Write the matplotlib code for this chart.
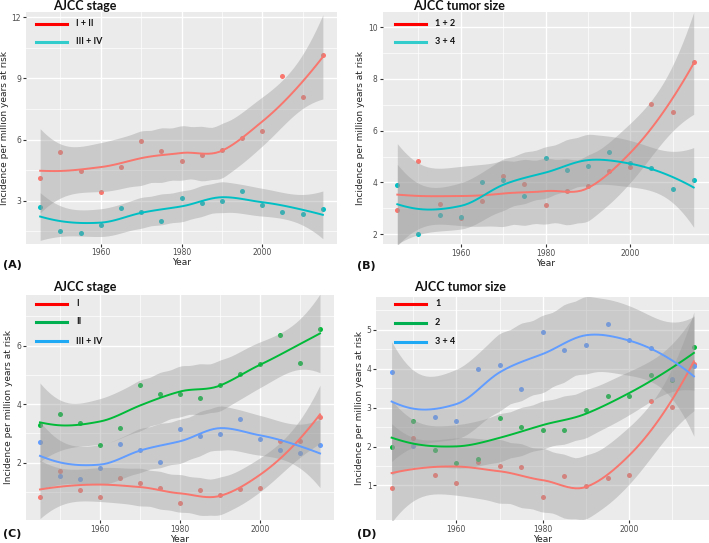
import numpy as np
import matplotlib.pyplot as plt

years = [1945, 1950, 1955, 1960, 1965, 1970, 1975, 1980, 1985, 1990, 1995, 2000, 2005, 2010, 2015]

# (A) AJCC stage, two groups
stage_I_II = [4.11, 5.41, 4.47, 3.44, 4.66, 5.93, 5.46, 4.96, 5.23, 5.51, 6.10, 6.45, 9.12, 8.10, 10.13]
stage_III_IV = [2.71, 1.53, 1.44, 1.83, 2.64, 2.43, 2.01, 3.15, 2.92, 2.98, 3.50, 2.80, 2.43, 2.34, 2.59]
# (B) AJCC tumor size, two groups
size_1_2 = [2.92, 4.84, 3.16, 2.62, 3.28, 4.23, 3.95, 3.12, 3.66, 3.88, 4.46, 4.58, 7.05, 6.74, 8.67]
size_3_4 = [3.91, 2.01, 2.75, 2.66, 4.00, 4.10, 3.48, 4.95, 4.48, 4.62, 5.16, 4.74, 4.54, 3.75, 4.08]
# (C) AJCC stage, three groups
stage_I = [0.84, 1.73, 1.08, 0.84, 1.47, 1.30, 1.14, 0.63, 1.06, 0.89, 1.11, 1.13, 2.75, 2.75, 3.55]
stage_II = [3.27, 3.65, 3.37, 2.61, 3.19, 4.67, 4.35, 4.36, 4.20, 4.66, 5.04, 5.38, 6.36, 5.40, 6.58]
# (D) AJCC tumor size, three groups
size_1 = [0.94, 2.22, 1.27, 1.05, 1.60, 1.51, 1.47, 0.70, 1.25, 0.98, 1.19, 1.28, 3.18, 3.02, 4.12]
size_2 = [1.99, 2.65, 1.90, 1.58, 1.69, 2.74, 2.51, 2.43, 2.43, 2.93, 3.29, 3.31, 3.84, 3.71, 4.56]

W, H = 709, 543
BG = "#EBEBEB"
TXT = "#4D4D4D"
RED, CYAN = "#F8766D", "#00BFC4"
GREEN, BLUE = "#00BA38", "#619CFF"
LEVEL_Z = 2.5758  # normal quantile for a 99% band


def local_ops(x, v, q):
    # local quadratic (tricube) fit at v: rows giving value and slope
    d = np.abs(x - v)
    h = np.sort(d)[q - 1]
    w = np.clip(1 - (d / h) ** 3, 0, None) ** 3
    X = np.column_stack([np.ones(len(x)), x - v, (x - v) ** 2])
    B = np.linalg.solve(X.T @ (w[:, None] * X), X.T * w)
    return B[0], B[1]


def kd_vertices(x, fc):
    mu = 0.005 * (x.max() - x.min())
    verts = {x.min() - mu, x.max() + mu}

    def split(l, u, a, b):
        if u - l + 1 <= fc:
            return
        m = (l + u + 2) // 2 - 1
        s = x[m]
        if s == a or s == b:
            return
        verts.add(s)
        split(l, m, a, s)
        split(m + 1, u, s, b)

    split(0, len(x) - 1, x.min() - mu, x.max() + mu)
    return np.array(sorted(verts))


def operator(x, pts, span=0.75, cell=0.2):
    # loess with kd-tree vertices and cubic Hermite blending, like R's default surface
    n = len(x)
    q = int(np.floor(n * span))
    verts = kd_vertices(x, int(np.floor(n * span * cell)))
    ops = [local_ops(x, v, q) for v in verts]
    rows = []
    for p in pts:
        i = min(max(np.searchsorted(verts, p) - 1, 0), len(verts) - 2)
        a, b = verts[i], verts[i + 1]
        hh = b - a
        t = (p - a) / hh
        h00 = 2 * t ** 3 - 3 * t ** 2 + 1
        h10 = t ** 3 - 2 * t ** 2 + t
        h01 = -2 * t ** 3 + 3 * t ** 2
        h11 = t ** 3 - t ** 2
        rows.append(h00 * ops[i][0] + h10 * hh * ops[i][1]
                    + h01 * ops[i + 1][0] + h11 * hh * ops[i + 1][1])
    return np.array(rows)


def t_quant(df, z=LEVEL_Z):
    # Cornish-Fisher expansion of the Student t quantile
    return (z + (z ** 3 + z) / (4 * df) + (5 * z ** 5 + 16 * z ** 3 + 3 * z) / (96 * df ** 2)
            + (3 * z ** 7 + 19 * z ** 5 + 17 * z ** 3 - 15 * z) / (384 * df ** 3))


def smooth(xv, yv, xs, span=0.75):
    x = (np.asarray(xv, float) - 1980) / 10
    y = np.asarray(yv, float)
    g = (xs - 1980) / 10
    L = operator(x, x, span)
    R = np.eye(len(x)) - L
    M = R.T @ R
    d1 = np.trace(M)
    d2 = np.trace(M @ M)
    s = np.sqrt(np.sum((R @ y) ** 2) / d1)
    fit = operator(x, g, span) @ y
    q = int(np.floor(len(x) * span))
    Ld = np.array([local_ops(x, p, q)[0] for p in g])  # direct rows for the se
    se = s * np.sqrt(np.sum(Ld ** 2, axis=1))
    t = t_quant(d1 ** 2 / d2)
    return fit, fit - t * se, fit + t * se


def px_axes(fig, l, t, r, b):
    return fig.add_axes([l / W, 1 - b / H, (r - l) / W, (b - t) / H])


def style(ax, ylim, major, minor):
    ax.set_facecolor(BG)
    ax.set_xlim(1941.5, 2018.5)
    ax.set_ylim(*ylim)
    ax.set_xticks([1960, 1980, 2000])
    ax.set_xticks([1950, 1970, 1990, 2010], minor=True)
    ax.set_yticks(major)
    ax.set_yticks(minor, minor=True)
    ax.grid(which="major", color="white", lw=1.0)
    ax.grid(which="minor", color="white", lw=0.5)
    ax.set_axisbelow(True)
    for sp in ax.spines.values():
        sp.set_visible(False)
    ax.tick_params(which="major", length=2, width=0.8, color="#333333",
                   labelsize=5.5, labelcolor=TXT, pad=1.5)
    ax.tick_params(which="minor", length=0)
    ax.set_xlabel("Year", fontsize=6.5, color="#222222", labelpad=0.5)
    ax.set_ylabel("Incidence per million years at risk", fontsize=6.5, color="#222222", labelpad=2)


def draw(ax, groups):
    xs = np.linspace(1945, 2015, 80)
    for vals, col in groups:
        ax.scatter(years, vals, s=13, color=col, lw=0, zorder=2)
    for vals, col in groups:
        fit, lo, hi = smooth(years, vals, xs)
        ax.fill_between(xs, lo, hi, color="#999999", alpha=0.4, lw=0, zorder=3)
        ax.plot(xs, fit, color=col, lw=1.4, zorder=4)


def legend(fig, x0, ys, items):
    for y, (lab, col) in zip(ys, items):
        fig.add_artist(plt.Line2D([x0 / W, (x0 + 31) / W], [1 - y / H, 1 - y / H],
                                  color=col, lw=2.2))
        fig.text((x0 + 40) / W, 1 - y / H, lab, fontsize=6.5, fontweight="bold",
                 family="Lato", va="center", color="#111111")


fig = plt.figure(figsize=(W / 100, H / 100), dpi=100)

axA = px_axes(fig, 26, 12, 337, 243.5)
style(axA, (0.91, 12.26), [3, 6, 9, 12], [1.5, 4.5, 7.5, 10.5])
draw(axA, [(stage_I_II, RED), (stage_III_IV, CYAN)])

axB = px_axes(fig, 382.5, 12, 708.5, 244)
style(axB, (1.62, 10.59), [2, 4, 6, 8, 10], [3, 5, 7, 9])
draw(axB, [(size_1_2, RED), (size_3_4, CYAN)])

axC = px_axes(fig, 26, 295, 334, 520)
style(axC, (0.04, 7.73), [2, 4, 6], [1, 3, 5, 7])
draw(axC, [(stage_I, RED), (stage_II, GREEN), (stage_III_IV, BLUE)])

axD = px_axes(fig, 376.5, 296.5, 709, 520)
style(axD, (0.11, 5.86), [1, 2, 3, 4, 5], [1.5, 2.5, 3.5, 4.5, 5.5])
draw(axD, [(size_1, RED), (size_2, GREEN), (size_3_4, BLUE)])

for x, y, s in [(53, 6, "AJCC stage"), (413, 6, "AJCC tumor size"),
                (53, 287, "AJCC stage"), (414, 287, "AJCC tumor size")]:
    fig.text(x / W, 1 - y / H, s, fontsize=9, fontweight="bold", family="Lato",
             va="center", color="#111111")

for x, y, s in [(3, 265, "(A)"), (357, 266, "(B)"), (3, 534, "(C)"), (357, 534, "(D)")]:
    fig.text(x / W, 1 - y / H, s, fontsize=8, fontweight="bold", va="center", color="#111111")

legend(fig, 36, [24, 42], [("I + II", "#FF0000"), ("III + IV", "#33CCCC")])
legend(fig, 395, [24, 42], [("1 + 2", "#FF0000"), ("3 + 4", "#33CCCC")])
legend(fig, 36, [303.5, 322, 341], [("I", "#FF0000"), ("II", "#00B050"), ("III + IV", "#1FA9F5")])
legend(fig, 395, [303.5, 322.5, 341.5], [("1", "#FF0000"), ("2", "#00B050"), ("3 + 4", "#1FA9F5")])

fig.savefig("out.png", dpi=100, facecolor="white")
